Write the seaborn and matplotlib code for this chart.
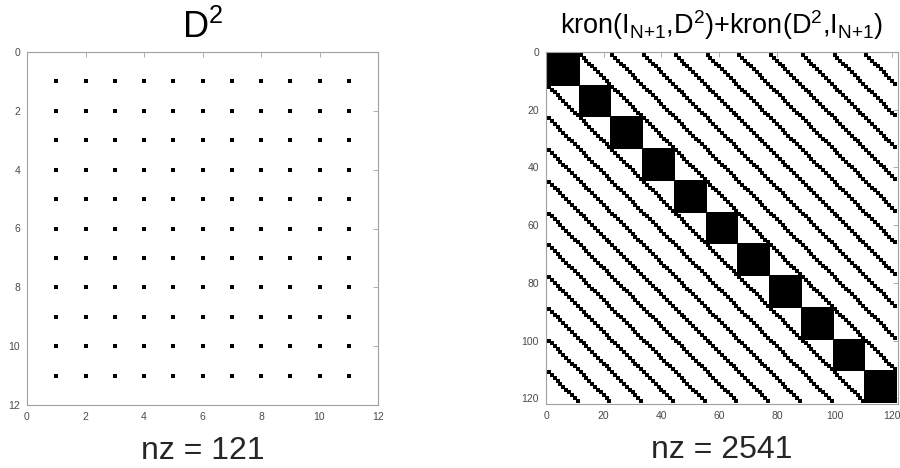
import numpy as np
import pandas as pd
import matplotlib
matplotlib.use('Agg')
import matplotlib.pyplot as plt
import seaborn as sns

sns.set_style('white')
plt.rcParams['font.family'] = ['Liberation Sans', 'DejaVu Sans']
plt.rcParams['mathtext.fontset'] = 'custom'
plt.rcParams['mathtext.rm'] = 'Liberation Sans'
plt.rcParams['mathtext.it'] = 'Liberation Sans'

# sparsity patterns (N = 10, D^2 is a full 11x11 matrix)
N = 10
D2 = np.ones((N + 1, N + 1))
I = np.eye(N + 1)
K = np.kron(I, D2) + np.kron(D2, I)

r1, c1 = np.nonzero(D2)
r2, c2 = np.nonzero(K)
df1 = pd.DataFrame({'col': c1 + 1, 'row': r1 + 1})
df2 = pd.DataFrame({'col': c2 + 1, 'row': r2 + 1})

fig = plt.figure(figsize=(9, 4.68), dpi=100)
ax1 = fig.add_axes([27 / 900, 1 - 405 / 468, 351 / 900, 353 / 468])
ax2 = fig.add_axes([546 / 900, 1 - 404 / 468, 352 / 900, 352 / 468])

sns.scatterplot(data=df1, x='col', y='row', marker='s', s=7, color='black',
                linewidth=0, ax=ax1, legend=False)
sns.scatterplot(data=df2, x='col', y='row', marker='s', s=5.5, color='black',
                linewidth=0, ax=ax2, legend=False)

def style(ax, n, step, title, tsize, tpad, nz):
    ax.set_xlim(0, n + 1)
    ax.set_ylim(n + 1, 0)
    ax.set_xticks(np.arange(0, n + 2, step))
    ax.set_yticks(np.arange(0, n + 2, step))
    ax.tick_params(direction='in', length=3.5, width=0.6, colors='#a0a0a0',
                   labelcolor='#4a4a4a', labelsize=7.5, top=True, right=True,
                   pad=5)
    for sp in ax.spines.values():
        sp.set_color('#a0a0a0')
        sp.set_linewidth(0.8)
    ax.set_title(title, fontsize=tsize, pad=tpad, color='black')
    ax.set_xlabel('nz = %d' % nz, fontsize=23, color='#262626', labelpad=10)
    ax.set_ylabel('')

style(ax1, D2.shape[0], 2, r'D$^2$', 26, 10, len(df1))
style(ax2, K.shape[0], 20,
      r'kron(I$_{N{+}1}$,D$^2$)+kron(D$^2$,I$_{N{+}1}$)', 19.5, 13, len(df2))

fig.savefig('out.png', dpi=100)
